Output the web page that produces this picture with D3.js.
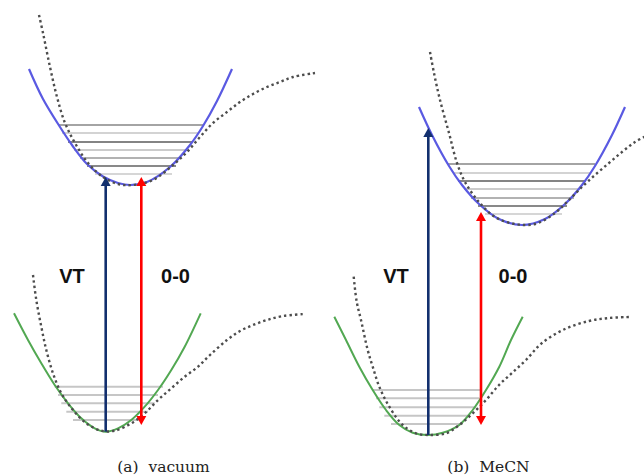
<!DOCTYPE html>
<html>
<head>
<meta charset="utf-8">
<script src="https://cdn.jsdelivr.net/npm/d3@7"></script>
<style>
  html, body { margin: 0; padding: 0; background: #fff; }
  svg { display: block; }
</style>
</head>
<body>
<svg id="chart" width="644" height="476"></svg>
<script>
// ---- Data: nuclear coordinate Q and energy E for each potential curve ----
const captions = ["(a)\u00a0\u00a0vacuum", "(b)\u00a0\u00a0MeCN"];
const transitionLabels = ["VT", "0-0"];

// Panel (a): vacuum
const excitedHarmonicVac = [
  [2.9, 37.1], [4.3, 34.1], [6.0, 31.3], [7.2, 29.5], [8.7, 27.6], [10.3, 26.35],
  [11.8, 25.7], [13.05, 25.5], [14.7, 25.8], [17.0, 27.3], [19.0, 29.5],
  [20.3, 31.4], [21.7, 33.9], [23.2, 37.1]
];
const excitedMorseVac = [
  [3.9, 42.5], [4.3, 40.7], [5.0, 37.3], [5.7, 34.3], [6.5, 31.7], [7.5, 29.7],
  [8.8, 27.7], [10.3, 26.3], [11.8, 25.6], [13.3, 25.5], [15.3, 26.0], [17.3, 27.5],
  [18.7, 28.8], [20.0, 30.3], [21.3, 31.7], [22.7, 32.8], [24.0, 33.8], [25.3, 34.6],
  [26.7, 35.3], [28.0, 35.8], [29.3, 36.3], [31.5, 36.7]
];
const groundHarmonicVac = [
  [1.4, 12.67], [2.8, 10.0], [4.13, 7.67], [5.47, 5.5], [6.8, 3.67], [8.13, 2.17],
  [9.47, 1.17], [10.57, 0.83], [11.8, 1.17], [13.13, 2.0], [14.47, 3.33],
  [15.8, 5.0], [17.13, 7.0], [18.47, 9.33], [20.07, 12.67]
];
const groundMorseVac = [
  [3.3, 16.5], [3.63, 14.0], [4.13, 11.33], [4.63, 9.0], [5.3, 6.67], [6.13, 4.67],
  [7.3, 3.0], [8.63, 1.67], [10.13, 0.93], [11.47, 0.93], [13.13, 1.67], [14.47, 2.67],
  [15.8, 4.0], [17.13, 5.17], [18.47, 6.33], [19.8, 7.33], [21.0, 8.5], [22.7, 10.0],
  [24.0, 10.9], [25.3, 11.5], [26.7, 12.0], [28.3, 12.4], [30.5, 12.6]
];
// vibrational levels: [E, Q left, Q right]
const excitedLevelsVac = [
  [31.5, 5.8, 20.3], [30.7, 6.2, 19.9], [29.8, 6.8, 19.3], [29.0, 7.4, 18.7],
  [28.2, 8.0, 18.1], [27.4, 8.7, 17.6], [26.6, 9.5, 17.2]
];
const groundLevelsVac = [
  [5.33, 5.47, 16.3], [4.5, 5.8, 15.8], [3.67, 6.13, 15.47], [2.83, 6.63, 14.8], [2.0, 7.3, 14.13]
];

// Panel (b): MeCN
const excitedHarmonicMeCN = [
  [9.7, 33.3], [11.0, 30.5], [12.7, 27.4], [14.0, 25.5], [15.7, 23.6], [17.7, 22.1],
  [20.0, 21.5], [22.3, 22.1], [24.3, 23.6], [26.0, 25.5], [27.3, 27.4],
  [29.0, 30.5], [30.3, 33.3]
];
const excitedMorseMeCN = [
  [10.8, 38.8], [11.2, 36.7], [11.8, 34.0], [12.7, 30.7], [13.5, 27.7], [14.3, 25.8],
  [15.7, 23.8], [17.3, 22.3], [19.3, 21.6], [21.3, 21.6], [23.3, 22.7], [24.7, 24.0],
  [26.0, 25.3], [27.3, 26.5], [28.7, 27.7], [30.0, 28.8], [31.3, 29.8], [32.6, 30.5]
];
const groundHarmonicMeCN = [
  [1.23, 12.33], [2.4, 10.0], [3.73, 7.33], [5.07, 5.0], [6.4, 3.0], [7.73, 1.5],
  [9.07, 0.73], [10.63, 0.5], [12.07, 0.73], [13.73, 1.5], [15.07, 3.0], [16.4, 5.0],
  [17.73, 7.33], [18.9, 10.0], [20.07, 12.33]
];
const groundMorseMeCN = [
  [3.17, 16.33], [3.47, 13.83], [3.9, 12.0], [4.57, 9.0], [5.07, 7.33], [5.73, 5.33],
  [6.73, 3.33], [8.07, 1.5], [9.4, 0.67], [10.73, 0.5], [12.4, 0.67], [13.73, 1.5],
  [15.07, 2.67], [16.4, 4.0], [17.7, 5.5], [19.0, 6.7], [20.4, 8.0], [22.0, 9.7],
  [24.3, 11.1], [26.7, 11.9], [28.7, 12.2], [30.7, 12.3]
];
const excitedLevelsMeCN = [
  [27.6, 12.6, 27.3], [26.7, 13.1, 26.9], [25.9, 13.6, 26.4], [25.1, 14.2, 25.8],
  [24.2, 14.9, 25.2], [23.4, 15.6, 24.5], [22.6, 16.3, 24.0]
];
const groundLevelsMeCN = [
  [5.0, 5.07, 15.9], [4.17, 5.4, 15.73], [3.27, 5.73, 15.4], [2.43, 6.23, 14.73], [1.6, 6.9, 14.07]
];

// Transitions: [Q, E start, E end] for the vertical (VT) and 0-0 arrows
const verticalTransitions = [[10.57, 0.83, 26.3], [10.63, 0.5, 31.2]];
const zeroZeroTransitions = [[14.13, 26.3, 1.5], [15.9, 22.8, 1.5]];

// ---- Build per-panel table ----
const panels = [
  {
    caption: captions[0],
    excited: excitedHarmonicVac, excitedMorse: excitedMorseVac,
    ground: groundHarmonicVac, groundMorse: groundMorseVac,
    excitedLevels: excitedLevelsVac, groundLevels: groundLevelsVac,
    vt: verticalTransitions[0], zz: zeroZeroTransitions[0]
  },
  {
    caption: captions[1],
    excited: excitedHarmonicMeCN, excitedMorse: excitedMorseMeCN,
    ground: groundHarmonicMeCN, groundMorse: groundMorseMeCN,
    excitedLevels: excitedLevelsMeCN, groundLevels: groundLevelsMeCN,
    vt: verticalTransitions[1], zz: zeroZeroTransitions[1]
  }
];

// ---- Layout ----
const panelW = 322;
const layout = [
  { vtLabelQ: 7.2, zzLabelQ: 17.55, labelE: 15.7, captionX: 163.5 },
  { vtLabelQ: 7.4, zzLabelQ: 19.1, labelE: 15.7, captionX: 166.5 }
];
const excitedShades = ["#a4a4a4", "#d3d3d3", "#848484", "#cbcbcb", "#b2b2b2", "#898989", "#d6d6d6"];
const groundShade = "#c6c6c6";

const x = d3.scaleLinear().domain([0, 32.2]).range([0, panelW]);
const y = d3.scaleLinear().domain([0, 44]).range([440, 0]);

const curve = d3.line()
  .x(d => x(d[0]))
  .y(d => y(d[1]))
  .curve(d3.curveCatmullRom.alpha(0.5));

const svg = d3.select("#chart");

function arrowHead(g, q, eTip, pointsUp, color) {
  const cx = x(q), ty = y(eTip);
  const len = 9, half = 5;
  const by = pointsUp ? ty + len : ty - len;
  g.append("path")
    .attr("d", `M${cx},${ty}L${cx - half},${by}L${cx + half},${by}Z`)
    .attr("fill", color);
}

panels.forEach((p, i) => {
  const g = svg.append("g").attr("transform", `translate(${i * panelW},0)`);
  const L = layout[i];

  // vibrational levels
  g.selectAll("line.exlevel").data(p.excitedLevels).join("line")
    .attr("class", "exlevel")
    .attr("x1", d => x(d[1])).attr("x2", d => x(d[2]))
    .attr("y1", d => y(d[0])).attr("y2", d => y(d[0]))
    .attr("stroke", (d, k) => excitedShades[k % excitedShades.length])
    .attr("stroke-width", 2);

  g.selectAll("line.grlevel").data(p.groundLevels).join("line")
    .attr("class", "grlevel")
    .attr("x1", d => x(d[1])).attr("x2", d => x(d[2]))
    .attr("y1", d => y(d[0])).attr("y2", d => y(d[0]))
    .attr("stroke", groundShade)
    .attr("stroke-width", 2);

  // harmonic potentials
  g.append("path").attr("d", curve(p.excited))
    .attr("fill", "none").attr("stroke", "#5a5ae2").attr("stroke-width", 2.2);
  g.append("path").attr("d", curve(p.ground))
    .attr("fill", "none").attr("stroke", "#52a852").attr("stroke-width", 2);

  // anharmonic (Morse-like) potentials
  [p.excitedMorse, p.groundMorse].forEach(pts => {
    g.append("path").attr("d", curve(pts))
      .attr("fill", "none").attr("stroke", "#4d4d4d")
      .attr("stroke-width", 2.4).attr("stroke-dasharray", "2.4,3");
  });

  // vertical transition (absorption) arrow
  const vtColor = "#13306e";
  const [vq, v0, v1] = p.vt;
  g.append("line")
    .attr("x1", x(vq)).attr("x2", x(vq))
    .attr("y1", y(v0)).attr("y2", y(v1) + 8)
    .attr("stroke", vtColor).attr("stroke-width", 2.6);
  arrowHead(g, vq, v1, true, vtColor);

  // 0-0 transition arrow (double headed)
  const zzColor = "#ff0000";
  const [zq, z0, z1] = p.zz;
  g.append("line")
    .attr("x1", x(zq)).attr("x2", x(zq))
    .attr("y1", y(z0) + 8).attr("y2", y(z1) - 8)
    .attr("stroke", zzColor).attr("stroke-width", 2.6);
  arrowHead(g, zq, z0, true, zzColor);
  arrowHead(g, zq, z1, false, zzColor);

  // transition labels
  g.append("text").text(transitionLabels[0])
    .attr("x", x(L.vtLabelQ)).attr("y", y(L.labelE))
    .attr("text-anchor", "middle")
    .attr("font-family", "Liberation Sans, Arial, sans-serif")
    .attr("font-weight", "bold").attr("font-size", 20).attr("fill", "#111");
  g.append("text").text(transitionLabels[1])
    .attr("x", x(L.zzLabelQ)).attr("y", y(L.labelE))
    .attr("text-anchor", "middle")
    .attr("font-family", "Liberation Sans, Arial, sans-serif")
    .attr("font-weight", "bold").attr("font-size", 20).attr("fill", "#111");

  // caption
  g.append("text").text(p.caption)
    .attr("x", L.captionX).attr("y", 472)
    .attr("text-anchor", "middle")
    .attr("font-family", "DejaVu Serif, serif")
    .attr("font-size", 15.5).attr("fill", "#222");
});
</script>
</body>
</html>
